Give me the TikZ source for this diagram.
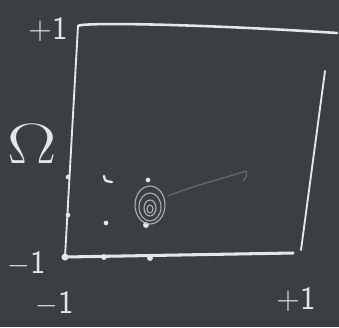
\documentclass[tikz,border=0pt]{standalone}
\usepackage{xcolor}
\definecolor{board}{HTML}{3B3F44}
\definecolor{chalk}{HTML}{E4E7EA}
\definecolor{faintchalk}{HTML}{62676C}
\tikzset{
  chalkline/.style={draw=chalk, line width=2.2pt, line cap=round, line join=round},
  chalkdot/.style={circle, fill=chalk, inner sep=0pt, minimum size=5pt},
  chalklabel/.style={text=chalk, font=\sffamily\fontsize{28}{28}\selectfont},
}
\begin{document}
\begin{tikzpicture}[x=0.03cm,y=-0.03cm]
\fill[board] (0,0) rectangle (339,327);
\useasboundingbox (0,0) rectangle (339,327);
\coordinate (tl) at (78,26);
\coordinate (tr) at (337,33);
\coordinate (bl) at (65,257);
\coordinate (br) at (293,253);
\coordinate (rt) at (325,71);
\coordinate (rb) at (301,250);
\draw[chalkline] (tl) .. controls (80,22) and (200,24) .. (tr);
\draw[chalkline, line width=1.6pt] (tl) -- (bl);
\draw[chalkline, line width=2.6pt] (bl) -- (br);
\draw[chalkline, line width=1.6pt] (rt) -- (rb);
\node[chalklabel] (ptop) at (48,30) {+1};
\node[chalklabel, scale=1.95, xscale=1.3] (omega) at (32,144) {$\Omega$};
\node[chalklabel] (mleft) at (27,264) {$-$1};
\node[chalklabel] (mbottom) at (55,304) {$-$1};
\node[chalklabel] (pright) at (296,300) {+1};
\node[chalkdot, minimum size=6pt] (d1) at (65,257) {};
\node[chalkdot] (d2) at (104,257) {};
\node[chalkdot] (d3) at (150,258) {};
\node[chalkdot, minimum size=4pt] (d4) at (68,177) {};
\node[chalkdot, minimum size=4pt] (d5) at (68,215) {};
\node[chalkdot, minimum size=4pt] (d6) at (106,223) {};
\node[chalkdot, minimum size=4pt] (d7) at (148,180) {};
\node[chalkdot, minimum size=5pt] (d8) at (146,225) {};
\draw[chalkline, line width=2pt] (104,176) .. controls (105,181) .. (112,182);
\draw[faintchalk!40!chalk, line width=0.9pt] (150,205) ellipse (15 and 19);
\draw[faintchalk!40!chalk, line width=0.9pt] (150,207) ellipse (11 and 14);
\draw[faintchalk!40!chalk, line width=0.9pt] (150,208) ellipse (6 and 8);
\draw[faintchalk!40!chalk, line width=0.9pt] (150,209) ellipse (3 and 4);
\draw[faintchalk, line width=1.2pt, line cap=round] (168,196) .. controls (195,185) and (225,178) .. (246,171) .. controls (247,176) .. (243,181);
\end{tikzpicture}
\end{document}
